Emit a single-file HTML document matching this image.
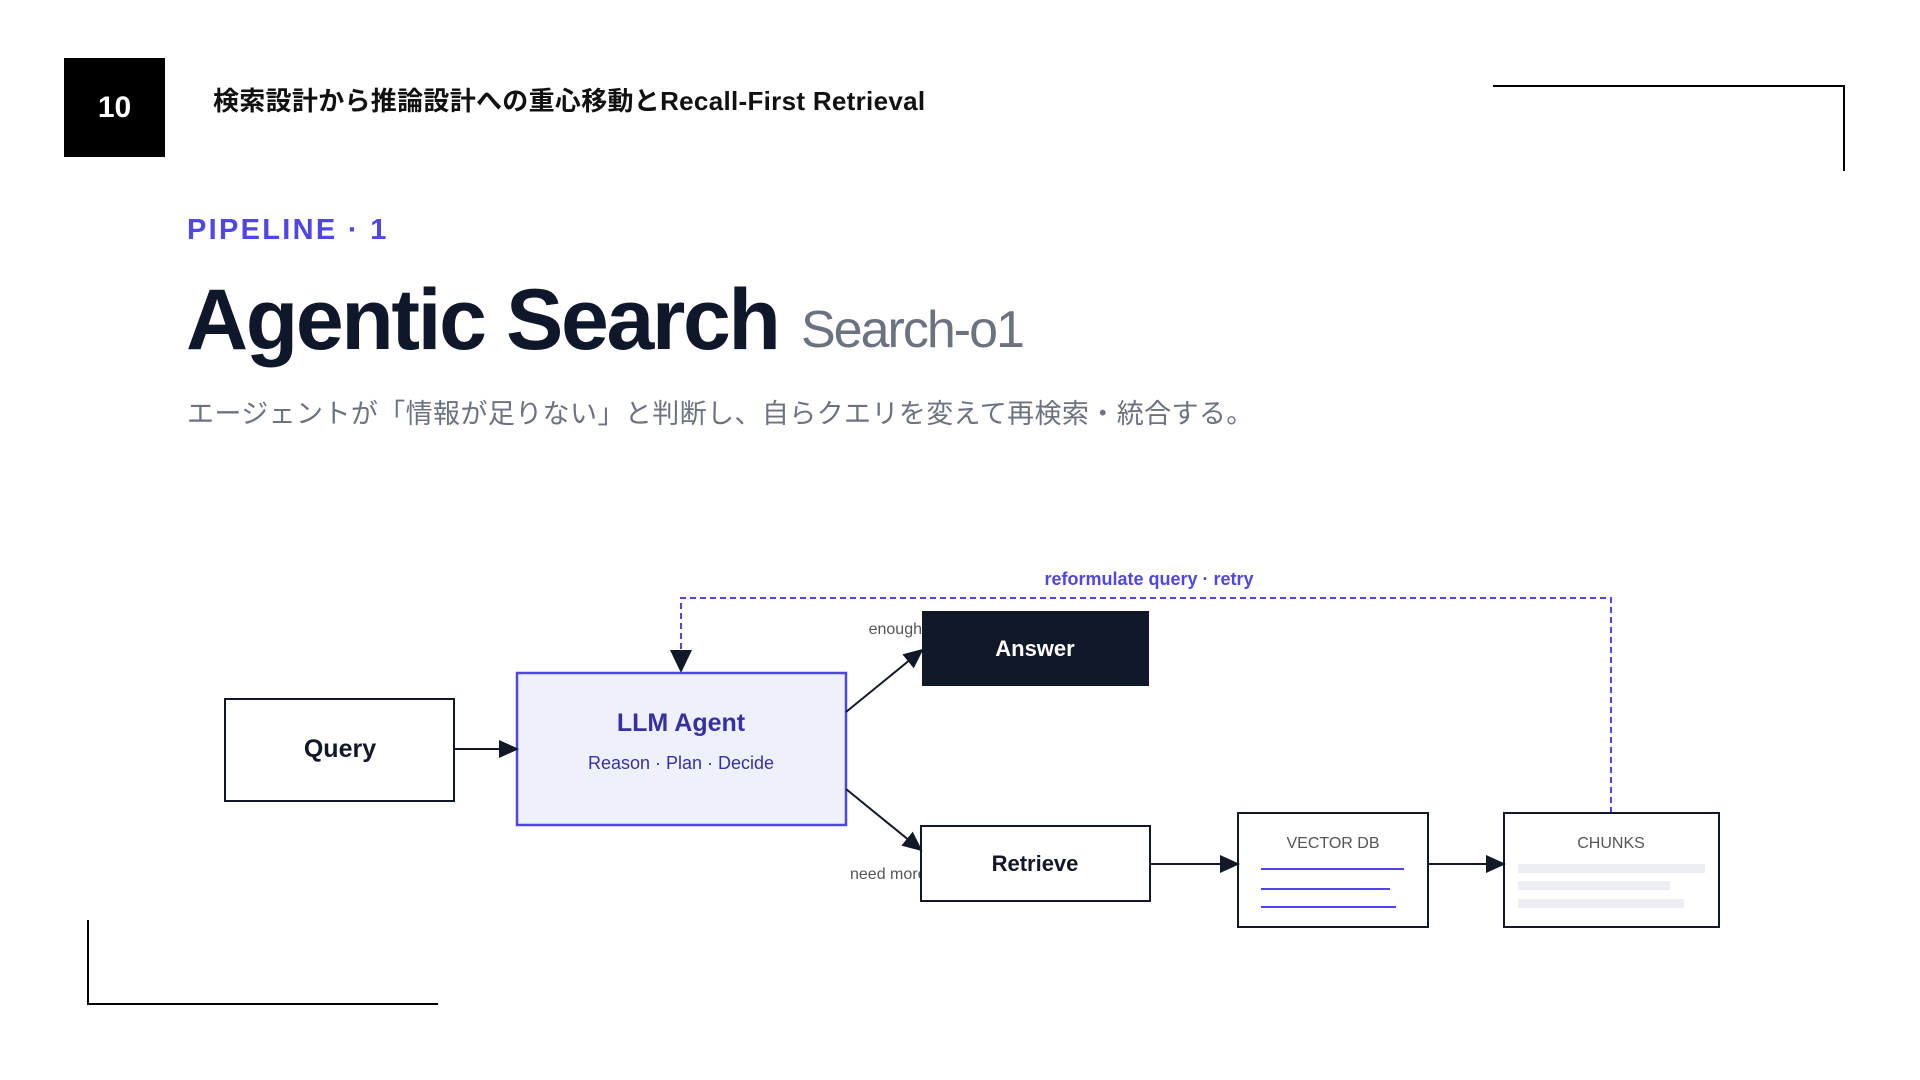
<!DOCTYPE html>
<html><head><meta charset="utf-8"><style>
body{margin:0;width:1920px;height:1080px;background:#fff;position:relative;overflow:hidden;font-family:"Liberation Sans","Noto Sans CJK JP",sans-serif}
.a{position:absolute;white-space:nowrap}
</style></head><body>
<div class="a" style="left:64px;top:58px;width:101px;height:99px;background:#000;color:#fff;font-size:30px;font-weight:bold;display:flex;align-items:center;justify-content:center">10</div>
<div class="a" style="left:213px;top:81px;font-size:26px;font-weight:bold;color:#111;letter-spacing:0.3px">検索設計から推論設計への重心移動とRecall-First Retrieval</div>
<div class="a" style="left:1493px;top:85px;width:352px;height:2px;background:#000"></div>
<div class="a" style="left:1843px;top:85px;width:2px;height:86px;background:#000"></div>
<div class="a" style="left:87px;top:920px;width:2px;height:85px;background:#000"></div>
<div class="a" style="left:87px;top:1003px;width:351px;height:2px;background:#000"></div>
<div class="a" style="left:187px;top:214px;font-size:29px;font-weight:bold;color:#4f46e5;letter-spacing:2.3px">PIPELINE · 1</div>
<div class="a" style="left:186px;top:270px;font-size:86px;font-weight:bold;color:#0f172a;letter-spacing:-2.4px;line-height:100px">Agentic Search</div>
<div class="a" style="left:801px;top:298px;font-size:52px;color:#6b7280;letter-spacing:-2px;line-height:64px">Search-o1</div>
<div class="a" style="left:187px;top:392px;font-size:27px;color:#6b7280;letter-spacing:0.4px">エージェントが「情報が足りない」と判断し、自らクエリを変えて再検索・統合する。</div>
<svg class="a" style="left:0;top:0" width="1920" height="1080" font-family="Liberation Sans, sans-serif">
<defs><marker id="ab" markerWidth="20" markerHeight="20" refX="18" refY="10" orient="auto" markerUnits="userSpaceOnUse" viewBox="0 0 20 20"><path d="M0,1 L20,10 L0,19z" fill="#111827"/></marker></defs>
<text x="1149" y="585" text-anchor="middle" font-size="18" font-weight="bold" fill="#4f46e5">reformulate query · retry</text>
<path d="M1611,813 V598 H681 V655" fill="none" stroke="#4f46e5" stroke-width="2" stroke-dasharray="6,4"/>
<path d="M670,650 L681,673 L692,650z" fill="#111827"/>
<text x="922" y="634" text-anchor="end" font-size="16" fill="#555">enough</text>
<text x="850" y="879" font-size="16" fill="#555">need more</text>
<rect x="225" y="699" width="229" height="102" fill="#fff" stroke="#111827" stroke-width="2"/>
<text x="340" y="757" text-anchor="middle" font-size="25" font-weight="bold" fill="#111827">Query</text>
<rect x="517" y="673" width="329" height="152" fill="#eef0fc" stroke="#4f46e5" stroke-width="2.5"/>
<text x="681" y="731" text-anchor="middle" font-size="25" font-weight="bold" fill="#3730a3">LLM Agent</text>
<text x="681" y="769" text-anchor="middle" font-size="18" fill="#3730a3">Reason · Plan · Decide</text>
<rect x="922" y="611" width="227" height="75" fill="#111827"/>
<text x="1035" y="656" text-anchor="middle" font-size="22" font-weight="bold" fill="#fff">Answer</text>
<rect x="921" y="826" width="229" height="75" fill="#fff" stroke="#111827" stroke-width="2"/>
<text x="1035" y="871" text-anchor="middle" font-size="22" font-weight="bold" fill="#111827">Retrieve</text>
<rect x="1238" y="813" width="190" height="114" fill="#fff" stroke="#111827" stroke-width="2"/>
<text x="1333" y="848" text-anchor="middle" font-size="16" fill="#555">VECTOR DB</text>
<g stroke="#4f46e5" stroke-width="2"><line x1="1261" y1="869" x2="1404" y2="869"/><line x1="1261" y1="889" x2="1390" y2="889"/><line x1="1261" y1="907" x2="1396" y2="907"/></g>
<rect x="1504" y="813" width="215" height="114" fill="#fff" stroke="#111827" stroke-width="2"/>
<text x="1611" y="848" text-anchor="middle" font-size="16" fill="#555">CHUNKS</text>
<g fill="#eceef3"><rect x="1518" y="864" width="187" height="9"/><rect x="1518" y="881" width="152" height="9"/><rect x="1518" y="899" width="166" height="9"/></g>
<g stroke="#111827" stroke-width="2" marker-end="url(#ab)">
<line x1="454" y1="749" x2="517" y2="749"/>
<line x1="846" y1="712" x2="922" y2="650"/>
<line x1="846" y1="789" x2="921" y2="850"/>
<line x1="1150" y1="864" x2="1238" y2="864"/>
<line x1="1428" y1="864" x2="1504" y2="864"/>
</g>
</svg>
</body></html>
